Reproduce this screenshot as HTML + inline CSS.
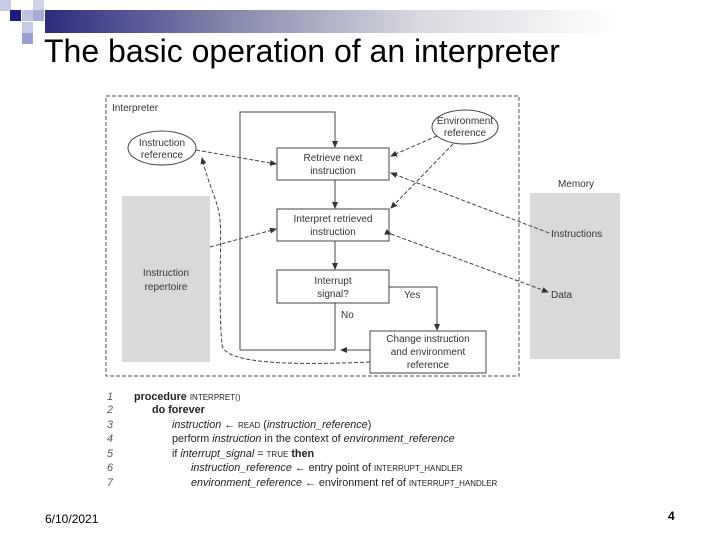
<!DOCTYPE html>
<html><head><style>
body{margin:0;width:720px;height:540px;background:#fff;position:relative;overflow:hidden;font-family:"Liberation Sans",sans-serif}
.sq{position:absolute;width:11px;height:11px}
</style></head><body>
<div class="sq" style="left:0;top:0;background:#c8cbe6"></div>
<div class="sq" style="left:10px;top:10px;background:#1a1a80"></div>
<div class="sq" style="left:22px;top:10px;background:#c0c3e3"></div>
<div class="sq" style="left:33px;top:0;background:#d0d2ea"></div>
<div class="sq" style="left:33px;top:10px;background:#a8abd8"></div>
<div class="sq" style="left:22px;top:22px;background:#c8cae6"></div>
<div class="sq" style="left:22px;top:33px;background:#9b9ed0"></div>
<div style="position:absolute;left:45px;top:10px;width:575px;height:23px;background:linear-gradient(to right,#2c2c80,#8d8fb0 35%,#d8d8e0 65%,#fff)"></div>
<div style="position:absolute;left:44px;top:34px;font-size:32px;color:#000;line-height:1.1">The basic operation of an interpreter</div>
<svg width="720" height="540" style="position:absolute;left:0;top:0" font-family="Liberation Sans, sans-serif" font-size="10" fill="#333">
<defs><marker id="a" markerWidth="7" markerHeight="6" refX="6" refY="3" orient="auto"><path d="M0,0L7,3L0,6z" fill="#333"/></marker></defs>
<rect x="106" y="96" width="413" height="280" fill="none" stroke="#555" stroke-dasharray="4,2"/>
<text x="112" y="111">Interpreter</text>
<rect x="122" y="196" width="88" height="166" fill="#d9d9d9"/>
<text x="166" y="276" text-anchor="middle">Instruction</text><text x="166" y="290" text-anchor="middle">repertoire</text>
<rect x="530" y="193" width="90" height="166" fill="#d9d9d9"/>
<text x="576" y="187" text-anchor="middle">Memory</text>
<text x="551" y="237">Instructions</text><text x="551" y="298">Data</text>
<ellipse cx="162" cy="148" rx="34" ry="17" fill="#fff" stroke="#444"/>
<text x="162" y="146" text-anchor="middle">Instruction</text><text x="162" y="158" text-anchor="middle">reference</text>
<ellipse cx="465" cy="127" rx="33" ry="17" fill="#fff" stroke="#444"/>
<text x="465" y="124" text-anchor="middle">Environment</text><text x="465" y="136" text-anchor="middle">reference</text>
<g fill="#fff" stroke="#444"><rect x="277" y="148" width="112" height="32"/><rect x="277" y="209" width="112" height="32"/><rect x="277" y="270" width="112" height="33"/><rect x="370" y="331" width="116" height="42"/></g>
<g text-anchor="middle"><text x="333" y="161">Retrieve next</text><text x="333" y="174">instruction</text>
<text x="333" y="222">Interpret retrieved</text><text x="333" y="235">instruction</text>
<text x="333" y="284">Interrupt</text><text x="333" y="297">signal?</text>
<text x="428" y="342">Change instruction</text><text x="428" y="355">and environment</text><text x="428" y="368">reference</text></g>
<text x="404" y="298">Yes</text><text x="341" y="318">No</text>
<g fill="none" stroke="#444">
<path d="M240,350V112H335V147" marker-end="url(#a)"/>
<path d="M335,180V208" marker-end="url(#a)"/>
<path d="M335,241V269" marker-end="url(#a)"/>
<path d="M335,303V350M370,350H341" marker-end="url(#a)"/>
<path d="M240,350H335"/>
<path d="M389,287H437V330" marker-end="url(#a)"/>
</g>
<g fill="none" stroke="#444" stroke-dasharray="4,2">
<path d="M196,150L276,164" marker-end="url(#a)"/>
<path d="M210,247L276,229" marker-end="url(#a)"/>
<path d="M370,362C300,365 225,365 222,345C218,300 222,230 220,220C218,200 210,190 202,158" marker-end="url(#a)"/>
<path d="M437,136L391,156" marker-end="url(#a)"/>
<path d="M453,144L391,208" marker-end="url(#a)"/>
<path d="M549,233L391,173" marker-end="url(#a)"/>
<path d="M391,234L548,292" marker-start="url(#a)" marker-end="url(#a)"/>
</g>
<g font-size="10.8" fill="#222">
<g font-style="italic" fill="#555"><text x="107" y="400">1</text><text x="107" y="413">2</text><text x="107" y="428">3</text><text x="107" y="442">4</text><text x="107" y="457">5</text><text x="107" y="471">6</text><text x="107" y="486">7</text></g>
<text x="134" y="400"><tspan font-weight="bold">procedure</tspan> <tspan font-size="8">INTERPRET()</tspan></text>
<text x="152" y="413" font-weight="bold">do forever</text>
<text x="172" y="428"><tspan font-style="italic">instruction</tspan> ← <tspan font-size="8">READ</tspan> (<tspan font-style="italic">instruction_reference</tspan>)</text>
<text x="172" y="442">perform <tspan font-style="italic">instruction</tspan> in the context of <tspan font-style="italic">environment_reference</tspan></text>
<text x="172" y="457">if <tspan font-style="italic">interrupt_signal</tspan> = <tspan font-size="8">TRUE</tspan> <tspan font-weight="bold">then</tspan></text>
<text x="191" y="471"><tspan font-style="italic">instruction_reference</tspan> ← entry point of <tspan font-size="8">INTERRUPT_HANDLER</tspan></text>
<text x="191" y="486"><tspan font-style="italic">environment_reference</tspan> ← environment ref of <tspan font-size="8">INTERRUPT_HANDLER</tspan></text>
</g>
</svg>
<div style="position:absolute;left:45px;top:512px;font-size:12px">6/10/2021</div>
<div style="position:absolute;left:668px;top:509px;font-size:12px;font-weight:bold">4</div>
</body></html>
